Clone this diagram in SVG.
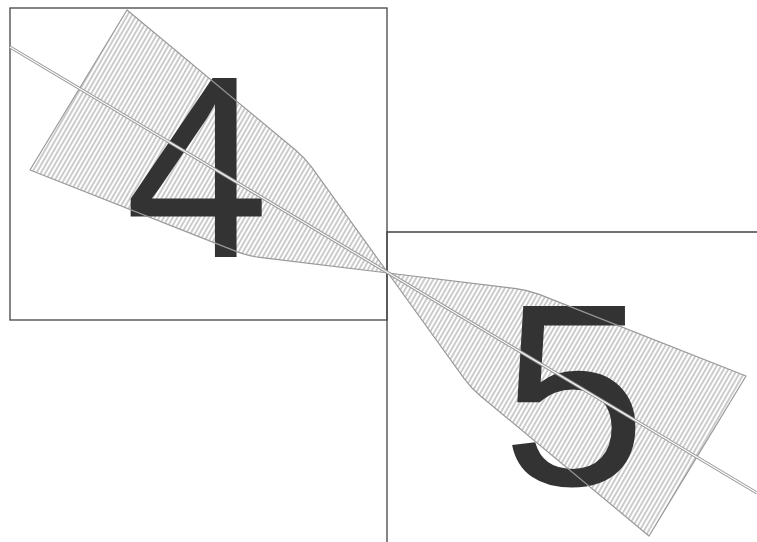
<svg xmlns="http://www.w3.org/2000/svg" width="757" height="542" viewBox="0 0 757 542">
<style>
.frame{fill:none;stroke:#444;stroke-width:1.3}
.hatch{fill:url(#hatch);stroke:none}
.outline{fill:none;stroke:#999;stroke-width:1.2;stroke-linejoin:round}
.num{font-family:"Liberation Sans",Arial,sans-serif;font-size:260px;fill:#333;text-anchor:middle}
</style>
<defs>
<pattern id="hatch" width="3.9" height="10" patternUnits="userSpaceOnUse" patternTransform="rotate(30)">
<line x1="1" y1="0" x2="1" y2="10" stroke="#8c8c8c" stroke-width="0.9"/>
</pattern>
<path id="fan" d="M127,10 L295.8,150.3 Q305,158 312,167.7 L388,273 L259.9,257.4 Q248,256 236.8,251.6 L30,170 Z"/>
</defs>
<rect width="757" height="542" fill="#fff"/>
<g id="frames">
<rect class="frame" x="10" y="8" width="377" height="312"/>
<path class="frame" d="M387,542 L387,232 L757,232"/>
</g>
<g id="fan4-fill">
<use href="#fan" class="hatch"/>
</g>
<g id="fan5-fill">
<use href="#fan" class="hatch" transform="rotate(180 388 273)"/>
</g>
<g id="node4"><text class="num" x="197" y="257">4</text></g>
<g id="node5"><text class="num" x="574" y="485">5</text></g>
<g id="outlines">
<use href="#fan" class="outline"/>
<use href="#fan" class="outline" transform="rotate(180 388 273)"/>
</g>
<g id="connectors">
<line x1="10" y1="47" x2="757" y2="493" stroke="#999" stroke-width="3.2"/>
<line x1="10" y1="47" x2="757" y2="493" stroke="#fff" stroke-width="1.1"/>
</g>
</svg>
